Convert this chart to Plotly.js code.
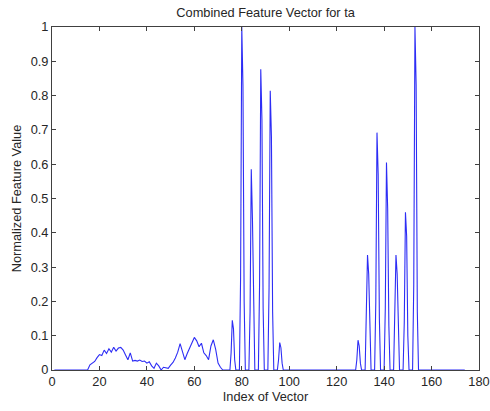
<!DOCTYPE html>
<html>
<head>
<meta charset="utf-8">
<script src="https://cdn.plot.ly/plotly-3.0.1.min.js"></script>
<style>html,body{margin:0;padding:0;background:#fff;}#chart{width:490px;height:411px;}</style>
</head>
<body>
<div id="chart"></div>
<script>
// Low-amplitude region (integer indices)
const lowIdx = [1,14,15,16,17,18,19,20,21,22,23,24,25,26,27,28,29,30,31,32,33,34,35,36,37,38,39,40,41,42,43,44,45,46,47,48,49,50,51,52,53,54,55,56,57,58,59,60,61,62,63,64,65,66,67,68,69,70,71,72,73,74];
const lowVal = [0,0,0,0.015,0.02,0.025,0.036,0.045,0.042,0.058,0.048,0.062,0.052,0.066,0.055,0.064,0.066,0.058,0.044,0.03,0.05,0.026,0.028,0.026,0.029,0.025,0.026,0.02,0.024,0.012,0.005,0.02,0.012,0,0.008,0.007,0.005,0.014,0.022,0.035,0.052,0.077,0.05,0.03,0.048,0.062,0.08,0.095,0.085,0.068,0.078,0.05,0.042,0.03,0.07,0.088,0.06,0.02,0.008,0,0,0];

// Spike peaks: centre index, top value, second value, left shoulder, right shoulder
const peakCenter = [76,80,84,88,92,96,129,133,137,141,145,149,153];
const peakTop    = [0.145,1.0,0.585,0.877,0.814,0.08,0.087,0.335,0.692,0.605,0.335,0.46,1.0];
const peakSecond = [0.12,0.83,0.44,0.73,0.68,0.065,0.07,0.28,0.57,0.47,0.28,0.39,0.83];
const peakLeft   = [0.05,0.27,0.17,0.25,0.24,0.03,0.03,0.17,0.2,0.18,0.17,0.14,0.25];
const peakRight  = [0.03,0.2,0.12,0.18,0.17,0.02,0.02,0.1,0.15,0.13,0.1,0.1,0.17];
const lastIdx = 174;

const xs = lowIdx.slice();
const ys = lowVal.slice();
for (let i = 0; i < peakCenter.length; i++) {
  const c = peakCenter[i];
  xs.push(c - 1, c - 0.5, c, c + 0.5, c + 1, c + 1.5);
  ys.push(0, peakLeft[i], peakTop[i], peakSecond[i], peakRight[i], 0);
}
xs.push(lastIdx); ys.push(0);

const trace = {
  x: xs, y: ys, type: 'scatter', mode: 'lines',
  line: {color: 'rgb(45,45,245)', width: 1.1},
  hoverinfo: 'skip'
};

const font = {family: 'Liberation Sans, Arial, Helvetica, sans-serif', size: 12.8, color: '#262626'};
const axisCommon = {
  showline: true, linecolor: '#404040', linewidth: 1, mirror: 'ticks',
  ticks: 'inside', ticklen: 4, tickcolor: '#404040', showgrid: false, zeroline: false,
  tickfont: font
};

const layout = {
  width: 490, height: 411,
  margin: {l: 52, r: 11, t: 27, b: 41},
  paper_bgcolor: '#fff', plot_bgcolor: '#fff',
  showlegend: false,
  font: font,
  title: {text: 'Combined Feature Vector for ta', font: font, x: 0.542, xanchor: 'center', y: 0.97, yanchor: 'middle', xref: 'container', yref: 'container'},
  xaxis: Object.assign({}, axisCommon, {range: [0, 180], dtick: 20, tick0: 0,
    title: {text: 'Index of Vector', font: font, standoff: 3}}),
  yaxis: Object.assign({}, axisCommon, {range: [0, 1], dtick: 0.1, tick0: 0,
    title: {text: 'Normalized Feature Value', font: font, standoff: 6}})
};

Plotly.newPlot('chart', [trace], layout, {staticPlot: true, displayModeBar: false});
</script>
</body>
</html>
